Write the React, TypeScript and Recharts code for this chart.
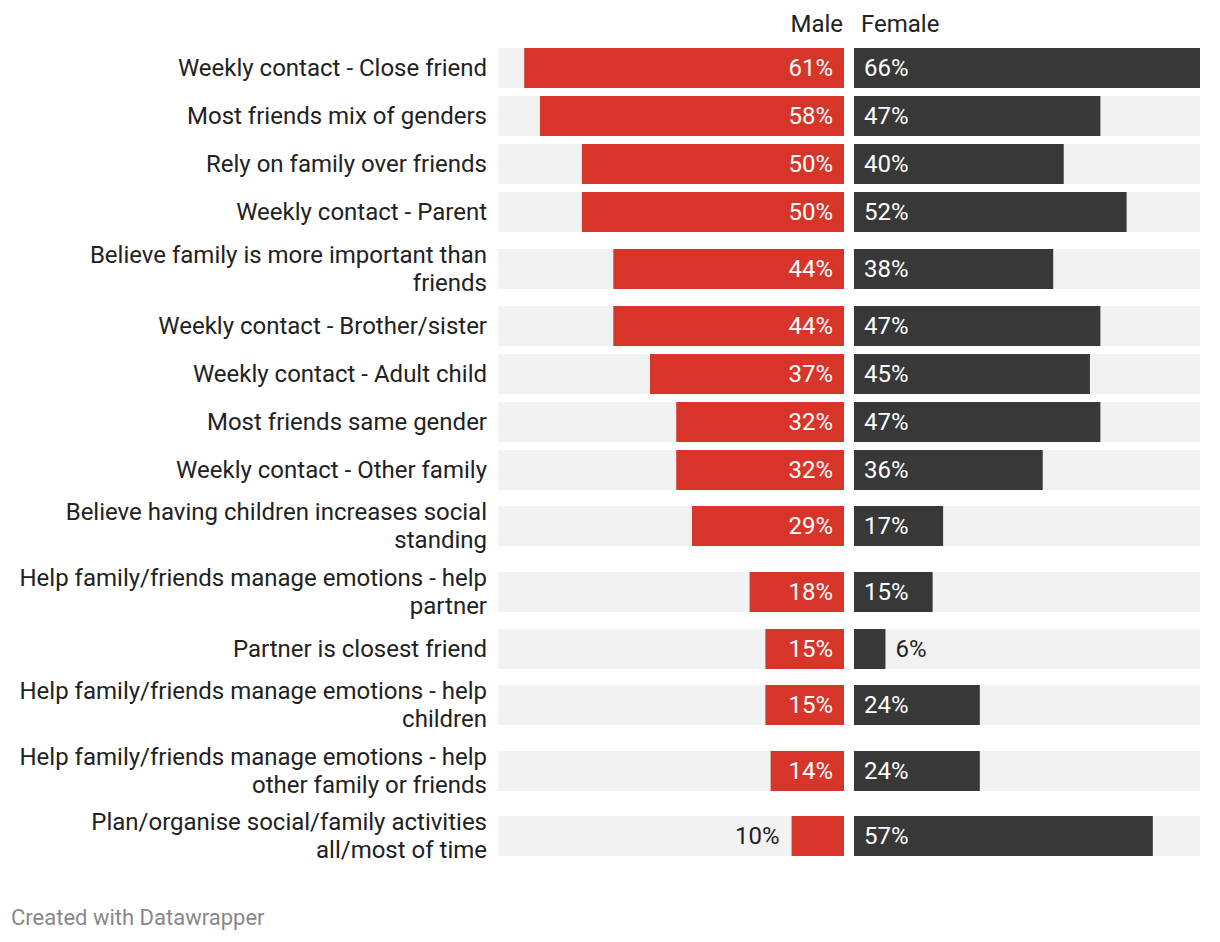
import React from 'react';
import { BarChart, Bar, XAxis, YAxis, LabelList } from 'recharts';

// labels wrap the way the original does, with \n
const categories = [
  'Weekly contact - Close friend',
  'Most friends mix of genders',
  'Rely on family over friends',
  'Weekly contact - Parent',
  'Believe family is more important than\nfriends',
  'Weekly contact - Brother/sister',
  'Weekly contact - Adult child',
  'Most friends same gender',
  'Weekly contact - Other family',
  'Believe having children increases social\nstanding',
  'Help family/friends manage emotions - help\npartner',
  'Partner is closest friend',
  'Help family/friends manage emotions - help\nchildren',
  'Help family/friends manage emotions - help\nother family or friends',
  'Plan/organise social/family activities\nall/most of time',
];
const male = [61, 58, 50, 50, 44, 44, 37, 32, 32, 29, 18, 15, 15, 14, 10];
const female = [66, 47, 40, 52, 38, 47, 45, 47, 36, 17, 15, 6, 24, 24, 57];
const MAX = 66;

const RED = '#d7352a';
const DARK = '#383838';
const BG = '#f2f2f2';
const TEXT = '#222';
const FONT = 'Roboto, sans-serif';
const FS = 24;
const DY = 7.5; // roughly half the cap height, to center text on a line

// row heights depend on how many lines the label takes
const TOP = 44;
const ROW_ONE = 48;
const ROW_TWO = 65.5;
const H = 880;

const positions: number[] = [];
let acc = TOP;
categories.forEach((c) => {
  const h = c.includes('\n') ? ROW_TWO : ROW_ONE;
  positions.push(Math.round(acc + h / 2));
  acc += h;
});

const data = categories.map((c, i) => ({
  label: c,
  pos: positions[i],
  male: male[i],
  female: female[i],
}));

const LabelTick = (props: any) => {
  const { y, payload } = props;
  const idx = positions.indexOf(payload.value);
  if (idx < 0) return null;
  const lines = categories[idx].split('\n');
  const first = -((lines.length - 1) / 2) * 28;
  return (
    <text x={487} y={y} textAnchor="end" fill={TEXT} fontSize={FS} fontFamily={FONT}>
      {lines.map((l, i) => (
        <tspan key={i} x={487} dy={i === 0 ? first + DY : 28}>
          {l}
        </tspan>
      ))}
    </text>
  );
};

const makeValueLabel = (side: 'male' | 'female') => (props: any) => {
  const vb = props.viewBox || {};
  const x = props.x ?? vb.x;
  const y = props.y ?? vb.y;
  const width = props.width ?? vb.width;
  const height = props.height ?? vb.height;
  const left = Math.min(x, x + width);
  const right = Math.max(x, x + width);
  const w = Math.abs(width);
  const cy = y + height / 2 + DY;
  const inside = w > 60;
  const txt = `${props.value}%`;
  if (side === 'male') {
    return (
      <text
        x={inside ? right - 11 : left - 12}
        y={cy}
        textAnchor="end"
        fill={inside ? '#fff' : TEXT}
        fontSize={FS}
        fontFamily={FONT}
      >
        {txt}
      </text>
    );
  }
  return (
    <text
      x={inside ? left + 10 : right + 10}
      y={cy}
      textAnchor="start"
      fill={inside ? '#fff' : TEXT}
      fontSize={FS}
      fontFamily={FONT}
    >
      {txt}
    </text>
  );
};

export default function App() {
  return (
    <div
      style={{
        position: 'absolute',
        left: 0,
        top: 0,
        width: 1220,
        height: 942,
        background: '#fff',
        fontFamily: FONT,
      }}
    >
      <div style={{ position: 'absolute', right: 1220 - 843, top: 10, fontSize: FS, color: TEXT, lineHeight: '28px' }}>
        Male
      </div>
      <div style={{ position: 'absolute', left: 861, top: 10, fontSize: FS, color: TEXT, lineHeight: '28px' }}>
        Female
      </div>

      <div style={{ position: 'absolute', left: 0, top: 0 }}>
        <BarChart
          width={844}
          height={H}
          data={data}
          layout="vertical"
          margin={{ top: 0, right: 0, bottom: 0, left: 0 }}
        >
          <XAxis type="number" domain={[0, MAX]} reversed hide />
          <YAxis
            type="number"
            dataKey="pos"
            domain={[0, H]}
            ticks={positions}
            interval={0}
            width={498}
            axisLine={false}
            tickLine={false}
            tick={<LabelTick />}
            allowDataOverflow
          />
          <Bar dataKey="male" fill={RED} barSize={40} background={{ fill: BG }} isAnimationActive={false}>
            <LabelList dataKey="male" content={makeValueLabel('male')} />
          </Bar>
        </BarChart>
      </div>

      <div style={{ position: 'absolute', left: 854, top: 0 }}>
        <BarChart
          width={346}
          height={H}
          data={data}
          layout="vertical"
          margin={{ top: 0, right: 0, bottom: 0, left: 0 }}
        >
          <XAxis type="number" domain={[0, MAX]} hide />
          <YAxis
            type="number"
            dataKey="pos"
            domain={[0, H]}
            ticks={positions}
            hide
            allowDataOverflow
          />
          <Bar dataKey="female" fill={DARK} barSize={40} background={{ fill: BG }} isAnimationActive={false}>
            <LabelList dataKey="female" content={makeValueLabel('female')} />
          </Bar>
        </BarChart>
      </div>

      <div style={{ position: 'absolute', left: 11, top: 904, fontSize: 22, color: '#888', lineHeight: '28px' }}>
        Created with Datawrapper
      </div>
    </div>
  );
}
